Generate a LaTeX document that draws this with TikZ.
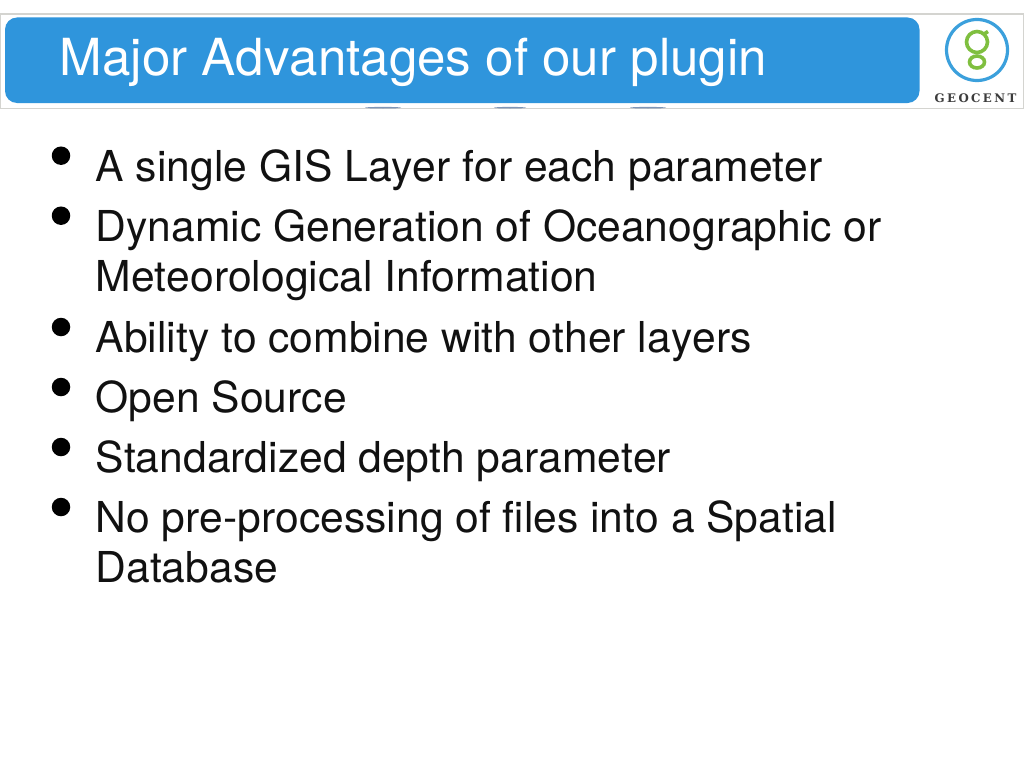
\documentclass[tikz,border=0pt]{standalone}
\usepackage{fontspec}
\setmainfont{TeX Gyre Heros}[Kerning=Off]
\newfontfamily\logofont{DejaVu Serif}
\definecolor{barblue}{HTML}{2F95DC}
\definecolor{frameg}{HTML}{D4D4D0}
\definecolor{ringblue}{HTML}{3BA0DC}
\definecolor{leaf}{HTML}{7FBF3F}
\definecolor{logotxt}{HTML}{3C3C3C}
\definecolor{txt}{HTML}{111111}
\definecolor{smudge}{HTML}{4A6A9A}
\tikzset{
  x=1pt,y=-1pt,
  bodytext/.style={anchor=base west,inner sep=0pt,text=txt,font=\fontsize{42.6}{42.6}\selectfont},
  bulletdot/.style={circle,fill=black,inner sep=0pt,minimum size=18.5pt},
  titletext/.style={anchor=base west,inner sep=0pt,text=white,font=\fontsize{51.1}{51.1}\selectfont},
}
\begin{document}
\begin{tikzpicture}
\useasboundingbox (0,0) rectangle (1024,768);
\fill[white] (0,0) rectangle (1024,768);
\draw[frameg,line width=1.2pt] (0.8,14) rectangle (1023.5,108.5);
\foreach \cx/\w in {383/18,510/16,648/18}{
  \fill[smudge,opacity=.7] (\cx,107.7) ellipse ({\w} and 0.8);
}
\fill[barblue,rounded corners=12pt] (5,17.5) rectangle (919.5,103);
\node[titletext] (title) at (59.5,75) {Major Advantages of our plugin};
\draw[ringblue,line width=3.2pt] (977,50) circle (30.5);
\draw[leaf,line width=3.6pt] (977,42) circle (10.5);
\draw[leaf,line width=3.6pt] (977,62) ellipse (7.5 and 6);
\draw[leaf,line width=3.6pt] (984,34) -- (988,31.5);
\node[anchor=base,inner sep=0pt,text=logotxt,font=\logofont\bfseries\fontsize{11.8}{11.8}\selectfont] (logo) at (975.5,102.5) {G\kern2.4pt E\kern2.4pt O\kern2.4pt C\kern2.4pt E\kern2.4pt N\kern2.4pt T};
\node[bulletdot] (b1) at (61,155.7) {};
\node[bodytext] (t1) at (95.5,181.5) {A single GIS Layer for each parameter};
\node[bulletdot] (b2) at (61,215.7) {};
\node[bodytext] (t2) at (95.5,241.5) {Dynamic Generation of Oceanographic or};
\node[bodytext] (t2b) at (95.5,291.5) {Meteorological Information};
\node[bulletdot] (b3) at (61,327) {};
\node[bodytext] (t3) at (95.5,352.5) {Ability to combine with other layers};
\node[bulletdot] (b4) at (61,387) {};
\node[bodytext] (t4) at (95.5,412.5) {Open Source};
\node[bulletdot] (b5) at (61,447) {};
\node[bodytext] (t5) at (95.5,472.5) {Standardized depth parameter};
\node[bulletdot] (b6) at (61,507) {};
\node[bodytext] (t6) at (95.5,532.5) {No pre-processing of files into a Spatial};
\node[bodytext] (t6b) at (95.5,582.5) {Database};
\end{tikzpicture}
\end{document}
